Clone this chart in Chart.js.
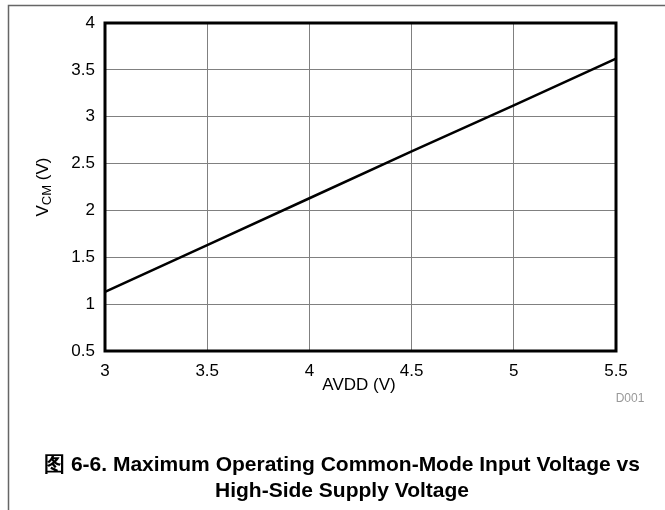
<!DOCTYPE html>
<html>
<head>
<meta charset="utf-8">
<script src="https://cdn.jsdelivr.net/npm/chart.js@4.4.0/dist/chart.umd.min.js"></script>
<style>
  html, body { margin: 0; padding: 0; background: #fff; }
  #wrap { width: 665px; height: 510px; position: relative; }
</style>
</head>
<body>
<div id="wrap"><canvas id="myChart" width="665" height="510"></canvas></div>
<script>
// AVDD (V) vs max common-mode input voltage (V)
var avdd = [3, 3.5, 4, 4.5, 5, 5.5];
var vcm = [1.13, 1.63, 2.13, 2.63, 3.12, 3.62];
var xTicks = [3, 3.5, 4, 4.5, 5, 5.5];
var yTicks = [0.5, 1, 1.5, 2, 2.5, 3, 3.5, 4];

var font = '"Liberation Sans", Arial, sans-serif';

var points = avdd.map(function (v, i) { return { x: v, y: vcm[i] }; });

// frame, plot border, axis titles and caption
const decor = {
  id: 'decor',
  afterDraw: function (chart) {
    const c = chart.ctx;
    const a = chart.chartArea;
    c.save();
    // page frame
    c.strokeStyle = '#666';
    c.lineWidth = 1.5;
    c.beginPath();
    c.moveTo(8.5, 510);
    c.lineTo(8.5, 5.5);
    c.lineTo(665, 5.5);
    c.stroke();
    // plot border
    c.strokeStyle = '#000';
    c.lineWidth = 3;
    c.strokeRect(a.left, a.top, a.right - a.left, a.bottom - a.top);

    c.fillStyle = '#000';
    // x title
    c.font = '17px ' + font;
    c.textAlign = 'center';
    c.textBaseline = 'middle';
    c.fillText('AVDD (V)', 359, 385);
    // y title with subscript
    c.translate(43, 187);
    c.rotate(-Math.PI / 2);
    c.textAlign = 'left';
    const w1 = c.measureText('V').width;
    c.font = '13px ' + font;
    const w2 = c.measureText('CM').width;
    c.font = '17px ' + font;
    const w3 = c.measureText(' (V)').width;
    let x0 = -(w1 + w2 + w3) / 2;
    c.fillText('V', x0, 0);
    c.font = '13px ' + font;
    c.fillText('CM', x0 + w1, 4);
    c.font = '17px ' + font;
    c.fillText(' (V)', x0 + w1 + w2, 0);
    c.setTransform(1, 0, 0, 1, 0, 0);
    // code
    c.fillStyle = '#999';
    c.font = '12px ' + font;
    c.textAlign = 'center';
    c.fillText('D001', 630, 399);
    // caption
    c.fillStyle = '#000';
    c.font = 'bold 21px ' + font;
    c.fillText('图 6-6. Maximum Operating Common-Mode Input Voltage vs', 342, 465);
    c.fillText('High-Side Supply Voltage', 342, 491);
    c.restore();
  }
};

new Chart(document.getElementById('myChart'), {
  type: 'line',
  data: {
    datasets: [{
      data: points,
      borderColor: '#000',
      borderWidth: 2.5,
      pointRadius: 0,
      tension: 0,
      fill: false
    }]
  },
  options: {
    responsive: false,
    animation: false,
    events: [],
    layout: { padding: { left: 0, top: 23, right: 49, bottom: 129 } },
    plugins: { legend: { display: false }, tooltip: { enabled: false } },
    scales: {
      x: {
        type: 'linear',
        min: 3, max: 5.5,
        afterFit: function (s) { s.height = 30; },
        afterBuildTicks: function (s) { s.ticks = xTicks.map(function (v) { return { value: v }; }); },
        grid: { color: '#808080', lineWidth: 1, drawTicks: false },
        border: { display: false },
        ticks: { color: '#000', padding: 10, maxRotation: 0, font: { family: font, size: 17 },
          callback: function (v) { return String(v); } }
      },
      y: {
        min: 0.5, max: 4,
        afterFit: function (s) { s.width = 105; },
        afterBuildTicks: function (s) { s.ticks = yTicks.map(function (v) { return { value: v }; }); },
        grid: { color: '#808080', lineWidth: 1, drawTicks: false },
        border: { display: false },
        ticks: { color: '#000', padding: 10, font: { family: font, size: 17 },
          callback: function (v) { return String(v); } }
      }
    }
  },
  plugins: [decor]
});
</script>
</body>
</html>
